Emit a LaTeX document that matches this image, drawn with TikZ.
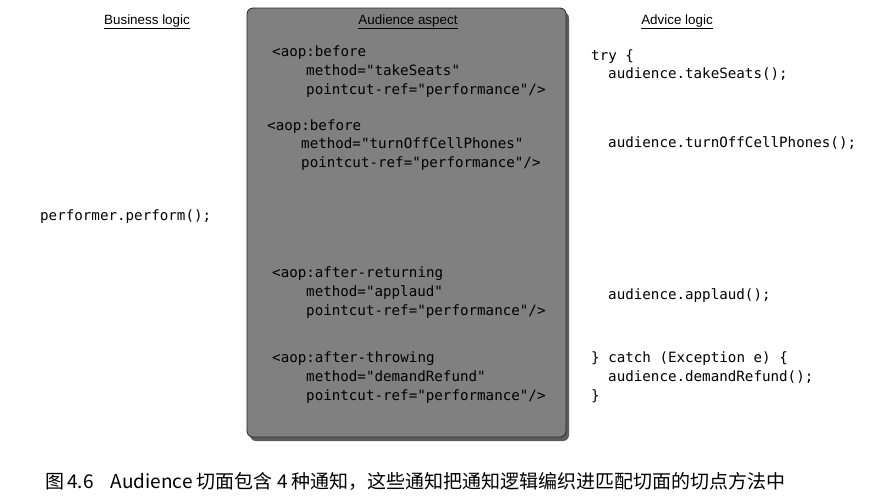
\documentclass[tikz,border=0pt]{standalone}
\usepackage{fontspec}
\setmainfont{Liberation Sans}
\setmonofont{DejaVu Sans Mono}
\newfontfamily\cjk{Noto Sans CJK SC}
\usetikzlibrary{shadows}
\begin{document}
\begin{tikzpicture}[x=1pt,y=-1pt,
  code/.style={anchor=base west,inner sep=0pt,font=\ttfamily\fontsize{14.2}{17}\selectfont,text=black},
  head/.style={anchor=base,inner sep=0pt,font=\fontsize{13.4}{15}\selectfont},
  panel/.style={draw=black!85,line width=0.8pt,fill=black!50,rounded corners=6pt,
    drop shadow={shadow xshift=3pt,shadow yshift=-4pt,opacity=0.75,fill=black!85}}]
\useasboundingbox (0,0) rectangle (872,499);
\fill[white] (0,0) rectangle (872,499);
\path[panel] (247,8) rectangle (566,437);
\node[head] (h1) at (147,24) {\underline{Business logic}};
\node[head] (h2) at (408,24) {\underline{Audience aspect}};
\node[head] (h3) at (677,24) {\underline{Advice logic}};
\node[code] (pp) at (40,220) {performer.perform();};
\node[code] (a1) at (272,56) {<aop:before};
\node[code] (a2) at (306,75) {method="takeSeats"};
\node[code] (a3) at (306,94) {pointcut-ref="performance"/>};
\node[code] (b1) at (267,130) {<aop:before};
\node[code] (b2) at (301,148) {method="turnOffCellPhones"};
\node[code] (b3) at (301,167) {pointcut-ref="performance"/>};
\node[code] (c1) at (272,277) {<aop:after-returning};
\node[code] (c2) at (306,296) {method="applaud"};
\node[code] (c3) at (306,315) {pointcut-ref="performance"/>};
\node[code] (d1) at (272,362) {<aop:after-throwing};
\node[code] (d2) at (306,381) {method="demandRefund"};
\node[code] (d3) at (306,400) {pointcut-ref="performance"/>};
\node[code] (r1) at (591,60) {try \{};
\node[code] (r2) at (608,78) {audience.takeSeats();};
\node[code] (r3) at (608,147) {audience.turnOffCellPhones();};
\node[code] (r4) at (608,299) {audience.applaud();};
\node[code] (r5) at (591,362) {\} catch (Exception e) \{};
\node[code] (r6) at (608,381) {audience.demandRefund();};
\node[code] (r7) at (591,400) {\}};
\node[anchor=base west,inner sep=0pt,font=\cjk\fontsize{19}{22}\selectfont] (cap) at (45,488) {图\,4.6\hspace{0.9em}Audience 切面包含 4 种通知，这些通知把通知逻辑编织进匹配切面的切点方法中};
\end{tikzpicture}
\end{document}
